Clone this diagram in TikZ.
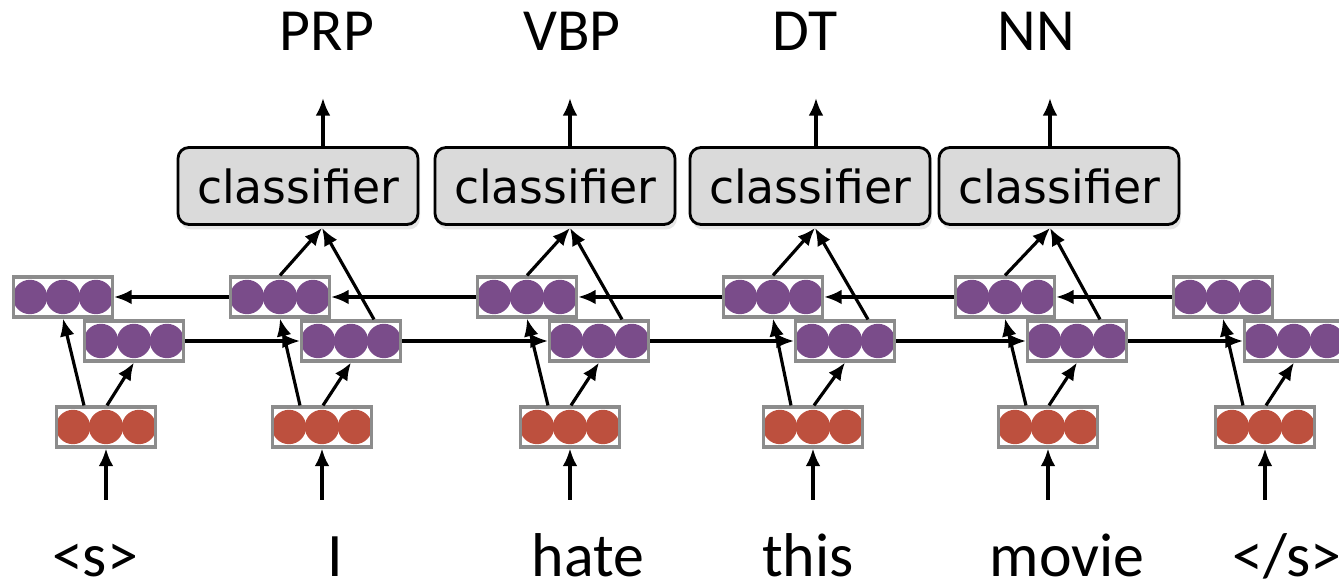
\documentclass[tikz,border=0pt]{standalone}
\usepackage{fontspec}
\setmainfont{Carlito}
\newfontfamily\clsfont{DejaVu Sans}
\usetikzlibrary{arrows.meta,calc,shadows}
\definecolor{vecpurple}{RGB}{122,76,138}
\definecolor{vecred}{RGB}{189,80,62}
\definecolor{boxgray}{RGB}{140,140,140}
\definecolor{clsgray}{RGB}{218,218,218}
\begin{document}
\begin{tikzpicture}[
	vecbox/.style={shape=rectangle, draw=boxgray, line width=0.9pt, fill=white, minimum width=0.99cm, minimum height=0.40cm, inner sep=0pt, path picture={\foreach \k in {-1,0,1} \fill[#1] ([xshift=\k*0.33cm]path picture bounding box.center) circle (0.172cm);}},
	clsbox/.style={shape=rectangle, draw, line width=0.8pt, rounded corners=0.11cm, fill=clsgray, minimum width=2.40cm, minimum height=0.77cm, inner sep=2pt, font=\clsfont\fontsize{13}{16}\selectfont, drop shadow={opacity=0.2, shadow xshift=0.02cm, shadow yshift=-0.05cm}},
	wire/.style={line width=0.9pt, -{Latex[length=5pt,width=4.2pt]}},
	tag/.style={anchor=base, inner sep=0pt, font=\fontsize{17}{20}\selectfont},
	word/.style={anchor=base, inner sep=0pt, font=\fontsize{17.6}{21}\selectfont}]
	\useasboundingbox (0,0) rectangle (13.39,5.87);
	% Embedding, backward and forward vectors:
	\node[vecbox=vecred] (r0) at (1.06, 1.60){};
	\node[vecbox=vecred] (r1) at (3.22, 1.60){};
	\node[vecbox=vecred] (r2) at (5.70, 1.60){};
	\node[vecbox=vecred] (r3) at (8.13, 1.60){};
	\node[vecbox=vecred] (r4) at (10.48, 1.60){};
	\node[vecbox=vecred] (r5) at (12.65, 1.60){};
	\node[vecbox=vecpurple] (b0) at (0.63, 2.90){};
	\node[vecbox=vecpurple] (b1) at (2.80, 2.90){};
	\node[vecbox=vecpurple] (b2) at (5.27, 2.90){};
	\node[vecbox=vecpurple] (b3) at (7.73, 2.90){};
	\node[vecbox=vecpurple] (b4) at (10.05, 2.90){};
	\node[vecbox=vecpurple] (b5) at (12.23, 2.90){};
	\node[vecbox=vecpurple] (f0) at (1.34, 2.46){};
	\node[vecbox=vecpurple] (f1) at (3.51, 2.46){};
	\node[vecbox=vecpurple] (f2) at (5.99, 2.46){};
	\node[vecbox=vecpurple] (f3) at (8.45, 2.46){};
	\node[vecbox=vecpurple] (f4) at (10.77, 2.46){};
	\node[vecbox=vecpurple] (f5) at (12.94, 2.46){};
	% Classifiers and tags:
	\node[clsbox] (c1) at (2.98, 4.01){classifier};
	\node[clsbox] (c2) at (5.55, 4.01){classifier};
	\node[clsbox] (c3) at (8.10, 4.01){classifier};
	\node[clsbox] (c4) at (10.59, 4.01){classifier};
	\node[tag] (t1) at (3.27, 5.36){PRP};
	\node[tag] (t2) at (5.72, 5.36){VBP};
	\node[tag] (t3) at (8.05, 5.36){DT};
	\node[tag] (t4) at (10.36, 5.36){NN};
	% Input words:
	\node[word] (w0) at (0.95, 0.10){<s>};
	\node[word] (w1) at (3.35, 0.10){I};
	\node[word] (w2) at (5.88, 0.10){hate};
	\node[word] (w3) at (8.08, 0.10){this};
	\node[word] (w4) at (10.67, 0.10){movie};
	\node[word] (w5) at (12.87, 0.10){</s>};
	% Free ends of the wires:
	\coordinate (i0) at (1.06, 0.87);
	\coordinate (i1) at (3.22, 0.87);
	\coordinate (i2) at (5.70, 0.87);
	\coordinate (i3) at (8.13, 0.87);
	\coordinate (i4) at (10.48, 0.87);
	\coordinate (i5) at (12.65, 0.87);
	\coordinate (k1) at (3.22, 3.59);
	\coordinate (k2) at (5.70, 3.59);
	\coordinate (k3) at (8.15, 3.59);
	\coordinate (k4) at (10.50, 3.59);
	\coordinate (o1) at (3.23, 4.89);
	\coordinate (o2) at (5.70, 4.89);
	\coordinate (o3) at (8.16, 4.89);
	\coordinate (o4) at (10.50, 4.89);
	% Wires:
	\draw[wire] (i0) -- (r0);
	\draw[wire] (i1) -- (r1);
	\draw[wire] (i2) -- (r2);
	\draw[wire] (i3) -- (r3);
	\draw[wire] (i4) -- (r4);
	\draw[wire] (i5) -- (r5);
	\draw[wire] ([xshift=-0.22cm]r0.north) -- (b0.south);
	\draw[wire] ([xshift=-0.22cm]r1.north) -- (b1.south);
	\draw[wire] ([xshift=-0.22cm]r2.north) -- (b2.south);
	\draw[wire] ([xshift=-0.22cm]r3.north) -- (b3.south);
	\draw[wire] ([xshift=-0.22cm]r4.north) -- (b4.south);
	\draw[wire] ([xshift=-0.22cm]r5.north) -- (b5.south);
	\draw[wire] ([xshift=0.01cm]r0.north) -- (f0.south);
	\draw[wire] ([xshift=0.01cm]r1.north) -- (f1.south);
	\draw[wire] ([xshift=0.01cm]r2.north) -- (f2.south);
	\draw[wire] ([xshift=0.01cm]r3.north) -- (f3.south);
	\draw[wire] ([xshift=0.01cm]r4.north) -- (f4.south);
	\draw[wire] ([xshift=0.01cm]r5.north) -- (f5.south);
	\draw[wire] (b1) -- (b0);
	\draw[wire] (b2) -- (b1);
	\draw[wire] (b3) -- (b2);
	\draw[wire] (b4) -- (b3);
	\draw[wire] (b5) -- (b4);
	\draw[wire] (f0) -- (f1);
	\draw[wire] (f1) -- (f2);
	\draw[wire] (f2) -- (f3);
	\draw[wire] (f3) -- (f4);
	\draw[wire] (f4) -- (f5);
	\draw[wire] (b1.north) -- (k1);
	\draw[wire] (b2.north) -- (k2);
	\draw[wire] (b3.north) -- (k3);
	\draw[wire] (b4.north) -- (k4);
	\draw[wire] ([xshift=0.23cm]f1.north) -- (k1);
	\draw[wire] ([xshift=0.23cm]f2.north) -- (k2);
	\draw[wire] ([xshift=0.23cm]f3.north) -- (k3);
	\draw[wire] ([xshift=0.23cm]f4.north) -- (k4);
	\draw[wire] (c1.north -| o1) -- (o1);
	\draw[wire] (c2.north -| o2) -- (o2);
	\draw[wire] (c3.north -| o3) -- (o3);
	\draw[wire] (c4.north -| o4) -- (o4);
\end{tikzpicture}
\end{document}
